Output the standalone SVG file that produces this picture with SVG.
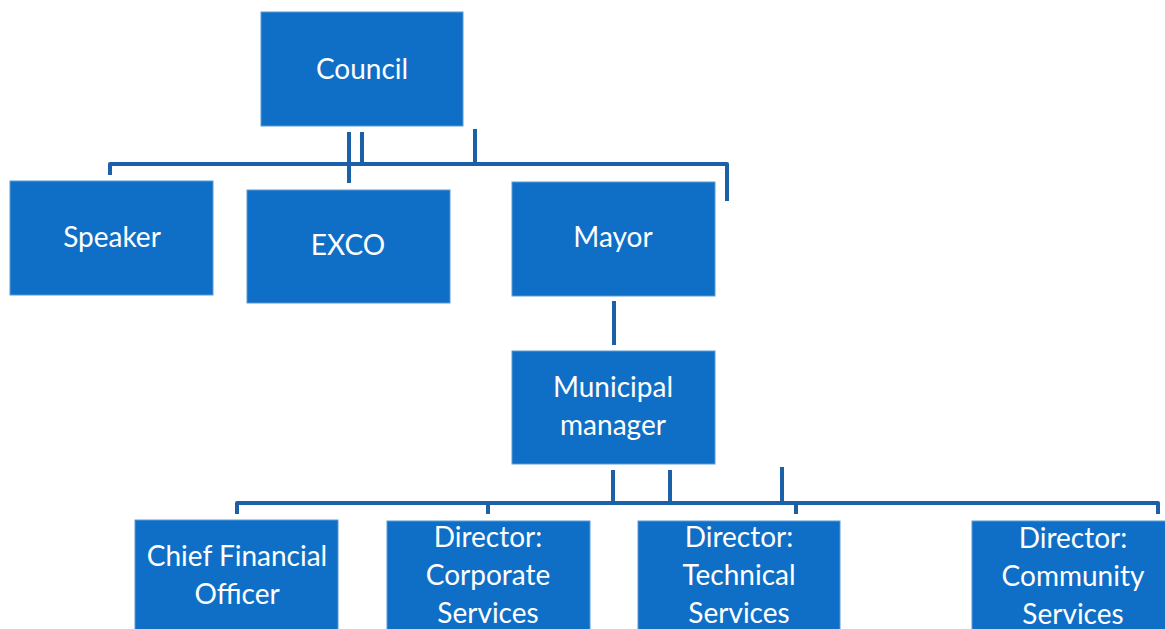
<svg xmlns="http://www.w3.org/2000/svg" width="1165" height="629" viewBox="0 0 1165 629">
<style>
.box{fill:#0F6FC6;stroke:#5B9BD5;stroke-width:1}
.lbl{font-family:Lato,"Liberation Sans",sans-serif;font-size:28px;fill:#FFFFFF;text-anchor:middle}
.ln{fill:none;stroke:#1C60A8;stroke-width:4;stroke-linejoin:round}
</style>
<rect width="1165" height="629" fill="#FFFFFF"/>
<g id="connectors">
<path class="ln" d="M110,175 V164 H727 V201"/>
<path class="ln" d="M349,132 V183"/>
<path class="ln" d="M362,132 V164"/>
<path class="ln" d="M475,129 V164"/>
<path class="ln" d="M614,301 V345"/>
<path class="ln" d="M237,514 V503 H1158 V514"/>
<path class="ln" d="M488,503 V514"/>
<path class="ln" d="M796,503 V514"/>
<path class="ln" d="M613,470 V503"/>
<path class="ln" d="M670,470 V503"/>
<path class="ln" d="M782,467 V503"/>
</g>
<g id="council"><rect class="box" x="261" y="12" width="202" height="114"/><text class="lbl" x="362" y="79">Council</text></g>
<g id="speaker"><rect class="box" x="10" y="181" width="203" height="114"/><text class="lbl" x="112" y="247">Speaker</text></g>
<g id="exco"><rect class="box" x="247" y="190" width="203" height="113"/><text class="lbl" x="348" y="255">EXCO</text></g>
<g id="mayor"><rect class="box" x="512" y="182" width="203" height="114"/><text class="lbl" x="613" y="247">Mayor</text></g>
<g id="municipal-manager"><rect class="box" x="512" y="351" width="203" height="113"/><text class="lbl" x="613" y="397">Municipal</text><text class="lbl" x="613" y="435">manager</text></g>
<g id="cfo"><rect class="box" x="135" y="520" width="203" height="115"/><text class="lbl" x="237" y="566">Chief Financial</text><text class="lbl" x="237" y="604">Officer</text></g>
<g id="corporate"><rect class="box" x="387" y="521" width="203" height="114"/><text class="lbl" x="488" y="547">Director:</text><text class="lbl" x="488" y="585">Corporate</text><text class="lbl" x="488" y="623">Services</text></g>
<g id="technical"><rect class="box" x="638" y="521" width="202" height="114"/><text class="lbl" x="739" y="547">Director:</text><text class="lbl" x="739" y="585">Technical</text><text class="lbl" x="739" y="623">Services</text></g>
<g id="community"><rect class="box" x="972" y="521" width="202" height="114"/><text class="lbl" x="1073" y="548">Director:</text><text class="lbl" x="1073" y="586">Community</text><text class="lbl" x="1073" y="624">Services</text></g>
</svg>
